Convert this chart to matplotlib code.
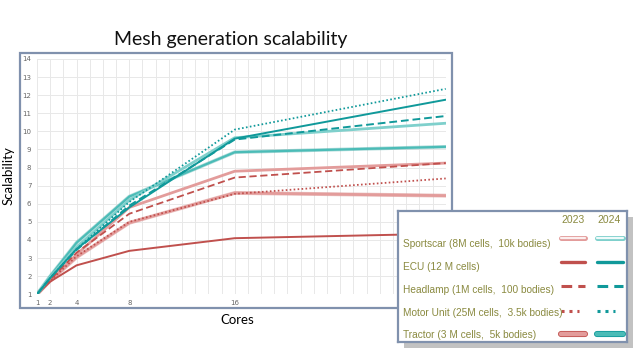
import matplotlib
matplotlib.use("Agg")
import matplotlib.pyplot as plt
import matplotlib.patheffects as pe
from matplotlib.patches import Rectangle

cores = [1, 2, 4, 8, 16, 32]
xticks = [1, 2, 4, 8, 16, 32]
yticks = list(range(1, 15))

sportscar_2023 = [1, 1.8, 3.2, 5.8, 7.8, 8.25]
ecu_2023 = [1, 1.7, 2.6, 3.4, 4.1, 4.35]
headlamp_2023 = [1, 1.8, 3.3, 5.45, 7.45, 8.25]
motor_2023 = [1, 1.75, 3.1, 5.0, 6.55, 7.4]
tractor_2023 = [1, 1.75, 3.05, 4.95, 6.6, 6.45]

sportscar_2024 = [1, 1.95, 3.6, 6.2, 9.65, 10.45]
ecu_2024 = [1, 1.9, 3.5, 5.8, 9.6, 11.75]
headlamp_2024 = [1, 1.9, 3.45, 5.9, 9.55, 10.85]
motor_2024 = [1, 1.9, 3.5, 6.1, 10.1, 12.35]
tractor_2024 = [1, 2.0, 3.85, 6.4, 8.85, 9.15]

labels = ["Sportscar (8M cells,  10k bodies)", "ECU (12 M cells)",
          "Headlamp (1M cells,  100 bodies)", "Motor Unit (25M cells,  3.5k bodies)",
          "Tractor (3 M cells,  5k bodies)"]

RED = "#c0504d"
RED_L = "#e39c9b"
TEAL = "#10999a"
TEAL_L = "#7fd0cc"
TEAL_M = "#4bbcb7"

fig = plt.figure(figsize=(6.4, 3.6), dpi=100)
W, H = 640, 360

# outer frame of the chart
fig.patches.append(Rectangle((20 / W, 1 - 308 / H), 432 / W, 255 / H, transform=fig.transFigure,
                             fill=False, edgecolor="#8091ad", lw=1.6, zorder=0))

ax = fig.add_axes([37 / W, 1 - 294.3 / H, (445.7 - 37) / W, (294.3 - 59) / H])
ax.set_xlim(1, 32)
ax.set_ylim(1, 14)
for s in ax.spines.values():
    s.set_visible(False)
ax.set_xticks(range(1, 33), minor=True)
ax.set_xticks(xticks)
ax.set_yticks(yticks)
ax.grid(True, which="both", color="#e8e8e8", lw=0.7)
ax.tick_params(which="both", length=0, labelsize=5, colors="#666666", pad=4)
ax.set_axisbelow(True)

glow = [pe.Stroke(linewidth=2.8, foreground="#d98a89", alpha=0.5), pe.Normal()]
glow_t = [pe.Stroke(linewidth=2.6, foreground="#3aa9a5", alpha=0.4), pe.Normal()]

ax.plot(cores, tractor_2023, color=RED_L, lw=2.0, path_effects=glow)
ax.plot(cores, sportscar_2023, color=RED_L, lw=2.0)
ax.plot(cores, ecu_2023, color=RED, lw=1.4)
ax.plot(cores, headlamp_2023, color=RED, lw=1.3, dashes=(4, 2))
ax.plot(cores, motor_2023, color=RED, lw=1.3, dashes=(0.9, 1.3))

ax.plot(cores, tractor_2024, color=TEAL_M, lw=1.6, path_effects=glow_t)
ax.plot(cores, sportscar_2024, color=TEAL_L, lw=2.0)
ax.plot(cores, ecu_2024, color=TEAL, lw=1.4)
ax.plot(cores, headlamp_2024, color=TEAL, lw=1.4, dashes=(4, 2))
ax.plot(cores, motor_2024, color=TEAL, lw=1.3, dashes=(0.9, 1.3))

fig.text(231 / W, 1 - 40 / H, "Mesh generation scalability", ha="center", va="center",
         fontsize=14, family="Lato", color="#111111")
fig.text(9 / W, 1 - 176 / H, "Scalability", ha="center", va="center", rotation=90,
         fontsize=9.5, family="Lato")
fig.text(237 / W, 1 - 320 / H, "Cores", ha="center", va="center", fontsize=9.5, family="Lato")

# legend box with shadow
lx, ly, lw_, lh = 398, 211, 229, 131
fig.patches.append(Rectangle(((lx + 6) / W, 1 - (ly + lh + 6) / H), lw_ / W, lh / H,
                             transform=fig.transFigure, facecolor="#9a9a9a", alpha=0.6,
                             edgecolor="none", zorder=5))
lg = fig.add_axes([lx / W, 1 - (ly + lh) / H, lw_ / W, lh / H], zorder=6)
lg.set_xlim(0, lw_)
lg.set_ylim(lh, 0)
lg.set_xticks([])
lg.set_yticks([])
lg.set_facecolor("white")
for s in lg.spines.values():
    s.set_color("#8091ad")
    s.set_linewidth(1.6)

TXT = "#8a8a40"
lg.text(175, 9, "2023", ha="center", va="center", fontsize=7.5, color=TXT, family="Liberation Sans")
lg.text(211, 9, "2024", ha="center", va="center", fontsize=7.5, color=TXT, family="Liberation Sans")
text_y = [33.3, 55.7, 79, 102.5, 124]
line_y = [26.7, 51.3, 75, 100, 123]
for lab, ty in zip(labels, text_y):
    lg.text(4.7, ty, lab, ha="left", va="center", fontsize=7.3, color=TXT, family="Liberation Sans")

for (x0, x1), dark, light, mid in [((163, 187), RED, RED_L, RED_L), ((199, 225), TEAL, TEAL_L, TEAL_M)]:
    y = line_y
    lg.plot([x0, x1], [y[0], y[0]], color=light, lw=3.6, solid_capstyle="round")
    lg.plot([x0, x1], [y[0], y[0]], color="#fbeeee" if dark == RED else "#eefafa", lw=1.6,
            solid_capstyle="round")
    lg.plot([x0, x1], [y[1], y[1]], color=dark, lw=2.4, solid_capstyle="round")
    lg.plot([x0, x1], [y[2], y[2]], color=dark, lw=2.2, dashes=(3.5, 2))
    lg.plot([x0, x0 + 18], [y[3], y[3]], color=dark, lw=2.2, dashes=(1, 1.6))
    lg.plot([x0, x1], [y[4], y[4]], color=mid, lw=3.2, solid_capstyle="round",
            path_effects=[pe.Stroke(linewidth=4.4, foreground=dark), pe.Normal()])

fig.savefig("out.png", dpi=100)
